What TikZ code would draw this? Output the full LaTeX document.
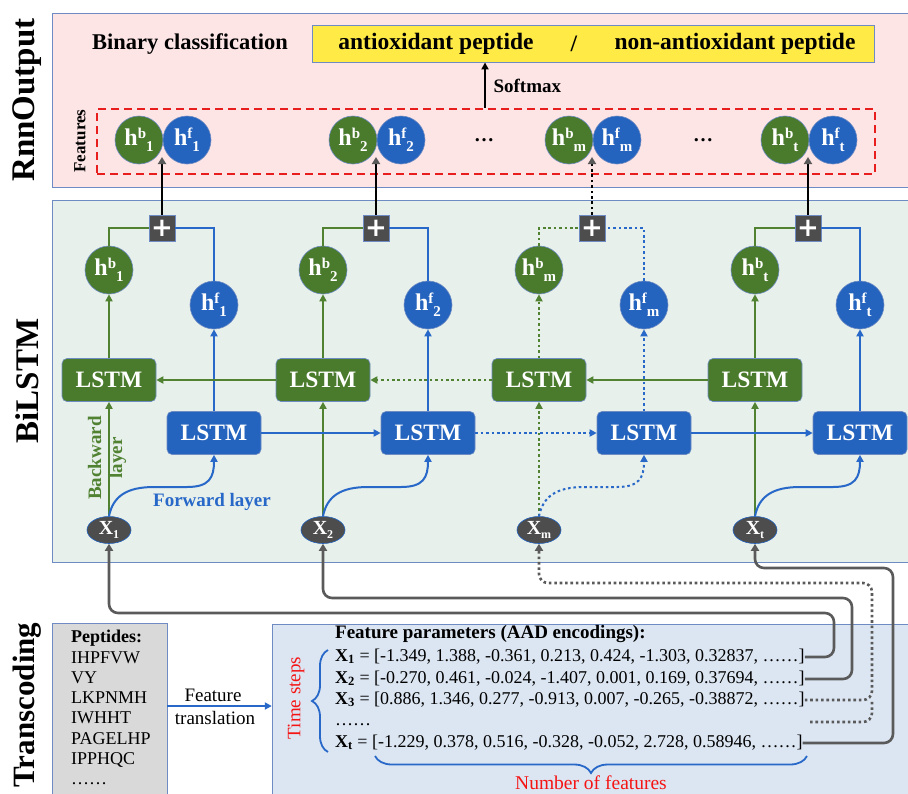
\documentclass[tikz,border=0pt]{standalone}
\usepackage{fontspec}
\setmainfont{Liberation Serif}
\newfontfamily\plusfont{DejaVu Sans}
\usetikzlibrary{arrows.meta,shapes.geometric,decorations.pathreplacing,calc}
\definecolor{gfill}{RGB}{74,122,44}
\definecolor{gline}{RGB}{80,130,50}
\definecolor{bfill}{RGB}{36,99,190}
\definecolor{bline}{RGB}{40,104,200}
\definecolor{dgray}{RGB}{77,77,77}
\definecolor{cgray}{RGB}{90,90,90}
\definecolor{pinkbg}{RGB}{253,228,229}
\definecolor{greenbg}{RGB}{231,240,235}
\definecolor{bluebg}{RGB}{220,230,242}
\definecolor{graybg}{RGB}{217,217,217}
\definecolor{panelb}{RGB}{110,140,195}
\definecolor{yel}{RGB}{255,234,70}
\definecolor{redd}{RGB}{232,30,30}
\definecolor{txtred}{RGB}{245,20,20}
\newcommand{\fs}[1]{\fontsize{#1}{#1}\selectfont}
\newcommand{\hsym}[2]{h\raisebox{0.6ex}{\fs{15}#1}\raisebox{-0.55ex}{\fs{15}#2}}
\tikzset{
  panel/.style={draw=panelb, line width=0.9pt},
  gcirc/.style={circle, fill=gfill, draw=panelb, line width=0.6pt, minimum size=48pt, inner sep=0pt, text=white, font=\fs{24}\bfseries},
  bcirc/.style={circle, fill=bfill, draw=panelb, line width=0.6pt, minimum size=48pt, inner sep=0pt, text=white, font=\fs{24}\bfseries},
  glstm/.style={rectangle, rounded corners=5pt, fill=gfill, draw=panelb, line width=0.6pt, minimum width=94pt, minimum height=43pt, inner sep=0pt, text=white, font=\fs{23.5}\bfseries},
  blstm/.style={rectangle, rounded corners=5pt, fill=bfill, draw=panelb, line width=0.6pt, minimum width=94pt, minimum height=43pt, inner sep=0pt, text=white, font=\fs{23.5}\bfseries},
  plusbox/.style={rectangle, fill=dgray, draw=panelb, line width=0.5pt, minimum size=26pt, inner sep=0pt, text=white, font=\plusfont\fs{26}\bfseries},
  xell/.style={ellipse, fill=dgray, draw=bfill, line width=0.6pt, minimum width=44pt, minimum height=27pt, inner sep=0pt, text=white, font=\fs{20}\bfseries},
  garr/.style={draw=gline, line width=2pt, -{Triangle[length=7pt,width=7pt]}},
  garrn/.style={draw=gline, line width=2pt},
  barr/.style={draw=bline, line width=2pt, -{Triangle[length=7pt,width=7pt]}},
  barrn/.style={draw=bline, line width=2pt},
  mydot/.style={dash pattern=on 2.6pt off 2.8pt},
  cdot/.style={dash pattern=on 2.6pt off 2.8pt},
  conn/.style={draw=cgray, line width=2.6pt, rounded corners=9pt, -{Triangle[length=7pt,width=8pt]}},
  connn/.style={draw=cgray, line width=2.6pt, rounded corners=9pt},
  uparr/.style={draw=black, line width=2.4pt, -{Triangle[length=7pt,width=8pt,color=cgray]}},
  rowtxt/.style={anchor=west, font=\fs{18}, inner sep=0pt, text height=12pt, text depth=3.5pt},
}
\begin{document}
\begin{tikzpicture}[x=1pt,y=-1pt]
\useasboundingbox (0,0) rectangle (908,793);
% panels
\draw[panel, fill=pinkbg] (52,13) rectangle (912,187);
\draw[panel, fill=greenbg] (52,200) rectangle (912,562);
\draw[panel, fill=graybg] (52,623) rectangle (167,800);
\draw[panel, fill=bluebg] (272,624) rectangle (912,800);
% side labels
\node[rotate=90, font=\fs{33}\bfseries] (lro) at (27,100) {RnnOutput};
\node[rotate=90, font=\fs{33}\bfseries] (lbi) at (27,381) {BiLSTM};
\node[rotate=90, font=\fs{31}\bfseries] (ltr) at (27,705) {Transcoding};
% output panel
\node[font=\fs{22.5}\bfseries] (bc) at (190,44) {Binary classification};
\node[draw=panelb, line width=0.9pt, fill=yel, minimum width=562pt, minimum height=37pt, inner sep=0pt] (cls) at (593,43.5) {};
\node[font=\fs{23.5}\bfseries] (c1) at (436,44) {antioxidant peptide};
\node[font=\fs{23.5}\bfseries] (c2) at (574,44) {/};
\node[font=\fs{23.5}\bfseries] (c3) at (735,44) {non-antioxidant peptide};
\node[draw=redd, line width=2.6pt, dash pattern=on 8pt off 5pt, minimum width=778pt, minimum height=65pt, inner sep=0pt] (feat) at (486,141.5) {};
\node[rotate=90, font=\fs{17}\bfseries] (flab) at (80,141) {Features};
\coordinate (sm) at (485,0);
\draw[black, line width=2pt, -{Triangle[length=7pt,width=7pt]}] (feat.north -| sm) -- (cls.south -| sm);
\node[anchor=west, font=\fs{19}\bfseries] (smx) at (490,86) {Softmax};
\node[font=\fs{20}\bfseries] (d1) at (484,140) {…};
\node[font=\fs{20}\bfseries] (d2) at (703,140) {…};
% columns
\foreach \i/\x/\ds in {1/109/solid,2/323/solid,m/539/mydot,t/755/solid}{
  \node[gcirc] (tb\i) at ({\x+30},140) {\hsym{b}{\i}};
  \node[bcirc] (tf\i) at ({\x+78},140) {\hsym{f}{\i}};
  \node[plusbox] (P\i) at ({\x+53},228) {+};
  \node[gcirc] (hb\i) at (\x,270) {\hsym{b}{\i}};
  \node[bcirc] (hf\i) at ({\x+105},305) {\hsym{f}{\i}};
  \node[glstm] (G\i) at (\x,380) {LSTM};
  \node[blstm] (B\i) at ({\x+105},433) {LSTM};
  \node[xell] (X\i) at (\x,530) {X\raisebox{-0.45ex}{\fs{12}\i}};
  \coordinate (T\i) at ({\x+53},157);
  \draw[garr,\ds] (X\i.north) -- (G\i.south);
  \draw[garr,\ds] (G\i.north) -- (hb\i.south);
  \draw[garrn,\ds] (hb\i.north) |- (P\i.west);
  \draw[barr,\ds] (B\i.north) -- (hf\i.south);
  \draw[barrn,\ds] (hf\i.north) |- (P\i.east);
  \draw[uparr,\ds] (P\i.north) -- (T\i);
  \draw[barr,\ds] (X\i.north) .. controls ({\x+4},496) and ({\x+18},487) .. ({\x+45},487) -- ({\x+78},487) .. controls ({\x+100},487) and ({\x+105},478) .. (B\i.south);
}
% horizontal LSTM links
\draw[garr] (G2.west) -- (G1.east);
\draw[garr,mydot] (Gm.west) -- (G2.east);
\draw[garr] (Gt.west) -- (Gm.east);
\draw[barr] (B1.east) -- (B2.west);
\draw[barr,mydot] (B2.east) -- (Bm.west);
\draw[barr] (Bm.east) -- (Bt.west);
\node[rotate=90, align=center, text=gline, font=\fontsize{19}{21}\selectfont\bfseries, inner sep=0pt] (bwl) at (107,458) {Backward\\layer};
\node[text=bline, font=\fs{19}\bfseries] (fwl) at (212,502) {Forward layer};
% transcoding
\node[anchor=north west, align=left, font=\fontsize{18}{20.3}\selectfont, inner sep=0pt] (pep) at (71,630) {\textbf{Peptides:}\\IHPFVW\\VY\\LKPNMH\\IWHHT\\PAGELHP\\IPPHQC\\……};
\node[draw=none, inner sep=0pt, minimum width=115pt, minimum height=177pt] (pepbox) at (109.5,711.5) {};
\node[draw=none, inner sep=0pt, minimum width=636pt, minimum height=176pt] (fpbox) at (590,712) {};
\coordinate (ft) at (0,706);
\draw[barr] (pepbox.east |- ft) -- (fpbox.west |- ft);
\node[font=\fs{19}] (ftl1) at (213,695) {Feature};
\node[font=\fs{19}] (ftl2) at (215,718) {translation};
\node[anchor=west, font=\fs{19}\bfseries, inner sep=0pt] (fph) at (335,634) {Feature parameters (AAD encodings):};
\node[rowtxt] (r1) at (335,657) {\textbf{X\textsubscript{1}} = [-1.349, 1.388, -0.361, 0.213, 0.424, -1.303, 0.32837, ……]};
\node[rowtxt] (r2) at (335,679) {\textbf{X\textsubscript{2}} = [-0.270, 0.461, -0.024, -1.407, 0.001, 0.169, 0.37694, ……]};
\node[rowtxt] (r3) at (335,700) {\textbf{X\textsubscript{3}} = [0.886, 1.346, 0.277, -0.913, 0.007, -0.265, -0.38872, ……]};
\node[rowtxt] (rdots) at (335,721) {……};
\node[rowtxt] (rt) at (335,743) {\textbf{X\textsubscript{t}} = [-1.229, 0.378, 0.516, -0.328, -0.052, 2.728, 0.58946, ……]};
\node[rotate=90, text=txtred, font=\fs{19}] (tsl) at (296,698) {Time steps};
\draw[bline, line width=1.8pt, decorate, decoration={brace, amplitude=16pt}] (328,752) -- (328,650);
\draw[bline, line width=1.8pt, decorate, decoration={brace, amplitude=17pt, mirror}] (375,756) -- (807,756);
\node[text=txtred, font=\fs{19.5}] (nfl) at (591,783) {Number of features};
% gray connectors
\coordinate (c1) at (834,613);
\coordinate (c2) at (852,598);
\coordinate (cm) at (872,583);
\coordinate (ct) at (893,568);
\coordinate (rd) at (810,722);
\draw[conn] (r1.east) -| (c1) -| (X1.south);
\draw[conn] (r2.east) -| (c2) -| (X2.south);
\draw[conn,cdot] (r3.east) -| (cm) -| (Xm.south);
\draw[connn,cdot] (rd) -| (cm |- r3.east);
\draw[conn] (rt.east) -| (ct) -| (Xt.south);
\end{tikzpicture}
\end{document}
